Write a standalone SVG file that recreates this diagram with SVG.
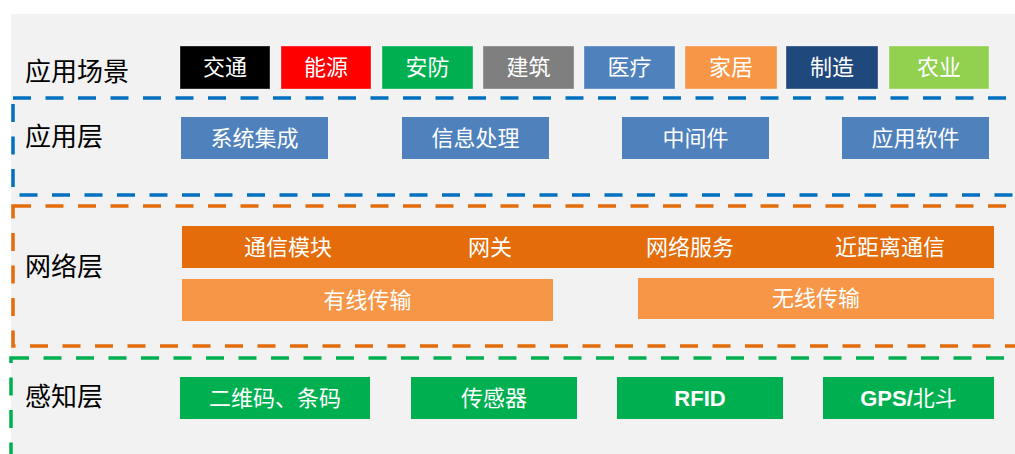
<svg xmlns="http://www.w3.org/2000/svg" width="1015" height="454" viewBox="0 0 1015 454">
<style>
.bx{stroke:#ffffff;stroke-opacity:0.35;stroke-width:1}
.t{font-family:"Liberation Serif","Noto Sans CJK SC",serif;font-size:22px;fill:#ffffff;text-anchor:middle}
.tb{font-family:"Liberation Sans","Noto Sans CJK SC",sans-serif;font-size:22px;font-weight:bold;fill:#ffffff;text-anchor:middle}
.lbl{font-family:"Liberation Serif","Noto Sans CJK SC",serif;font-size:26px;fill:#000000}
.dash{fill:none;stroke-width:3.5;stroke-dasharray:18 14.5}
</style>
<rect x="11" y="14" width="1004" height="440" fill="#f2f2f2"/>
<g id="layers">
<rect class="dash" x="13" y="98" width="1020" height="97" stroke="#0070c0"/>
<rect class="dash" x="13" y="206" width="1020" height="140" stroke="#e46c0a"/>
<rect class="dash" x="11" y="358" width="1020" height="120" stroke="#00b050"/>
</g>
<g id="labels">
<text class="lbl" x="25" y="81">应用场景</text>
<text class="lbl" x="25" y="146">应用层</text>
<text class="lbl" x="25" y="276">网络层</text>
<text class="lbl" x="25" y="406">感知层</text>
</g>
<g id="n-jiaotong"><rect class="bx" x="180" y="46" width="90" height="43" fill="#000000"/><text class="t" x="225" y="67.5" dy="0.36em">交通</text></g>
<g id="n-nengyuan"><rect class="bx" x="281" y="46" width="90" height="43" fill="#ff0000"/><text class="t" x="326" y="67.5" dy="0.36em">能源</text></g>
<g id="n-anfang"><rect class="bx" x="382" y="46" width="91" height="43" fill="#00b050"/><text class="t" x="427.5" y="67.5" dy="0.36em">安防</text></g>
<g id="n-jianzhu"><rect class="bx" x="483" y="46" width="91" height="43" fill="#7f7f7f"/><text class="t" x="528.5" y="67.5" dy="0.36em">建筑</text></g>
<g id="n-yiliao"><rect class="bx" x="584" y="46" width="91" height="43" fill="#4f81bd"/><text class="t" x="629.5" y="67.5" dy="0.36em">医疗</text></g>
<g id="n-jiaju"><rect class="bx" x="685" y="46" width="92" height="43" fill="#f79646"/><text class="t" x="731" y="67.5" dy="0.36em">家居</text></g>
<g id="n-zhizao"><rect class="bx" x="786" y="46" width="92" height="43" fill="#1f497d"/><text class="t" x="832" y="67.5" dy="0.36em">制造</text></g>
<g id="n-nongye"><rect class="bx" x="889" y="46" width="100" height="43" fill="#92d050"/><text class="t" x="939" y="67.5" dy="0.36em">农业</text></g>
<g id="n-xitong"><rect x="181" y="117" width="147" height="42" fill="#4f81bd"/><text class="t" x="254.5" y="138" dy="0.36em">系统集成</text></g>
<g id="n-xinxi"><rect x="402" y="117" width="147" height="42" fill="#4f81bd"/><text class="t" x="475.5" y="138" dy="0.36em">信息处理</text></g>
<g id="n-zhongjian"><rect x="622" y="117" width="147" height="42" fill="#4f81bd"/><text class="t" x="695.5" y="138" dy="0.36em">中间件</text></g>
<g id="n-yingyong"><rect x="842" y="117" width="147" height="42" fill="#4f81bd"/><text class="t" x="915.5" y="138" dy="0.36em">应用软件</text></g>
<g id="n-network"><rect x="182" y="226" width="812" height="42" fill="#e46c0a"/>
<text class="t" x="288" y="247" dy="0.36em">通信模块</text>
<text class="t" x="490" y="247" dy="0.36em">网关</text>
<text class="t" x="690" y="247" dy="0.36em">网络服务</text>
<text class="t" x="890" y="247" dy="0.36em">近距离通信</text></g>
<g id="n-youxian"><rect x="182" y="279" width="371" height="42" fill="#f79646"/><text class="t" x="367.5" y="300" dy="0.36em">有线传输</text></g>
<g id="n-wuxian"><rect x="638" y="278" width="356" height="41" fill="#f79646"/><text class="t" x="816" y="298.5" dy="0.36em">无线传输</text></g>
<g id="n-erwei"><rect x="180" y="377" width="190" height="42" fill="#00b050"/><text class="t" x="275" y="398" dy="0.36em">二维码、条码</text></g>
<g id="n-chuangan"><rect x="411" y="377" width="166" height="42" fill="#00b050"/><text class="t" x="494" y="398" dy="0.36em">传感器</text></g>
<g id="n-rfid"><rect x="617" y="377" width="166" height="42" fill="#00b050"/><text class="tb" x="700" y="398" dy="0.36em">RFID</text></g>
<g id="n-gps"><rect x="823" y="377" width="171" height="42" fill="#00b050"/><text class="tb" x="908.5" y="398" dy="0.36em">GPS/<tspan font-weight="normal">北斗</tspan></text></g>
<g id="connectors"></g>
</svg>
